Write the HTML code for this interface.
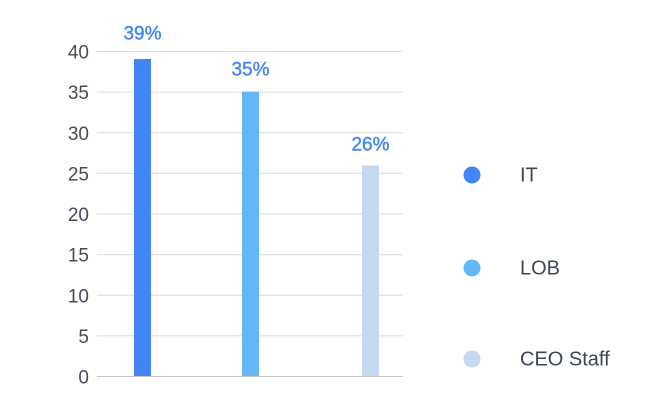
<!DOCTYPE html>
<html><head><meta charset="utf-8"><style>
body{margin:0;background:#fff;}
svg{display:block;font-family:"Liberation Sans",sans-serif;}
</style></head><body>
<svg width="670" height="419" viewBox="0 0 670 419">
<g stroke="#dcdcdc" stroke-width="1">
<line x1="97" x2="403" y1="51.5" y2="51.5"/>
<line x1="97" x2="403" y1="92.1" y2="92.1"/>
<line x1="97" x2="403" y1="132.8" y2="132.8"/>
<line x1="97" x2="403" y1="173.4" y2="173.4"/>
<line x1="97" x2="403" y1="214" y2="214"/>
<line x1="97" x2="403" y1="254.6" y2="254.6"/>
<line x1="97" x2="403" y1="295.3" y2="295.3"/>
<line x1="97" x2="403" y1="335.9" y2="335.9"/>
</g>
<line x1="97" x2="403" y1="376.5" y2="376.5" stroke="#c8c8c8"/>
<g fill="#444c57" font-size="19" text-anchor="end">
<text x="89" y="58.5">40</text><text x="89" y="99.1">35</text><text x="89" y="139.8">30</text>
<text x="89" y="180.4">25</text><text x="89" y="221">20</text><text x="89" y="261.6">15</text>
<text x="89" y="302.3">10</text><text x="89" y="342.9">5</text><text x="89" y="383.5">0</text>
</g>
<rect x="134" y="59" width="17" height="317" fill="#4285f4"/>
<rect x="242" y="91.6" width="17" height="284.4" fill="#63b7f6"/>
<rect x="362" y="165.5" width="17" height="210.5" fill="#c4d8ef"/>
<g fill="#4285f4" font-size="19" text-anchor="middle" style="paint-order:stroke" stroke="#4285f4" stroke-width="0.4">
<text x="142.5" y="39.5">39%</text>
<text x="250.5" y="75.5">35%</text>
<text x="370.5" y="150.5">26%</text>
</g>
<circle cx="472" cy="175" r="8.5" fill="#4285f4"/>
<circle cx="472" cy="268" r="8.5" fill="#63b7f6"/>
<circle cx="472" cy="359" r="8.5" fill="#c4d8ef"/>
<g fill="#3c4654" font-size="20">
<text x="520" y="181.5">IT</text>
<text x="520" y="274.5">LOB</text>
<text x="520" y="365.5">CEO Staff</text>
</g>
</svg>
</body></html>
